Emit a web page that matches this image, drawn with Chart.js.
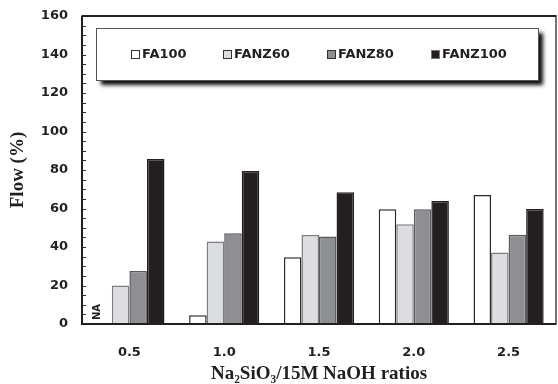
<!DOCTYPE html>
<html>
<head>
<meta charset="utf-8">
<script src="https://cdn.jsdelivr.net/npm/chart.js@4.4.1/dist/chart.umd.min.js"></script>
<style>
  html, body { margin: 0; padding: 0; background: #fff; }
  #wrap { width: 558px; height: 384px; }
</style>
</head>
<body>
<div id="wrap"><canvas id="flowChart"></canvas></div>
<script>
const ratios = ["0.5", "1.0", "1.5", "2.0", "2.5"];
const fa100 = [null, 4.5, 34.7, 59.6, 67];
const fanz60 = [20, 42.8, 46.2, 51.8, 37.2];
const fanz80 = [27.5, 47.2, 45.5, 59.6, 46.3];
const fanz100 = [85.7, 79.5, 68.4, 63.9, 59.7];
const yTicks = [0, 20, 40, 60, 80, 100, 120, 140, 160];

const ink = "#231f20";
const tickFont = { family: "DejaVu Sans", size: 13, weight: "bold" };
const titleFont = { family: "Liberation Serif", size: 19, weight: "bold", lineHeight: 1 };

const series = [
  { label: "FA100", data: fa100, bg: "#ffffff", border: "#2a2a2a" },
  { label: "FANZ60", data: fanz60, bg: "#dcdde0", border: "#7d7d7d" },
  { label: "FANZ80", data: fanz80, bg: "#8e8f93", border: "#5a5a5a" },
  { label: "FANZ100", data: fanz100, bg: ink, border: ink },
];

// frame, minor ticks, legend box and the "NA" note
const decorations = {
  id: "decorations",
  afterDraw(chart) {
    const { ctx, chartArea: a, scales } = chart;
    const y = scales.y, x = scales.x;
    ctx.save();

    // minor ticks inside the left axis
    ctx.strokeStyle = "#333";
    ctx.lineWidth = 1;
    for (let v = 0; v <= 160; v += 5) {
      const py = Math.round(y.getPixelForValue(v)) + 0.5;
      ctx.beginPath();
      ctx.moveTo(a.left, py);
      ctx.lineTo(a.left + 4, py);
      ctx.stroke();
    }

    // frame
    ctx.strokeStyle = "#444";
    ctx.lineWidth = 1.5;
    ctx.strokeRect(a.left, a.top, a.right - a.left, a.bottom - a.top);
    ctx.strokeStyle = ink;
    ctx.lineWidth = 2;
    ctx.beginPath();
    ctx.moveTo(a.left, a.top);
    ctx.lineTo(a.left, a.bottom);
    ctx.lineTo(a.right, a.bottom);
    ctx.moveTo(a.left, a.top);
    ctx.lineTo(a.right, a.top);
    ctx.stroke();

    // NA label where FA100 at 0.5 would be
    const catW = (a.right - a.left) / ratios.length;
    const barW = catW * 0.74 / series.length;
    const naX = x.getPixelForValue(0) - 1.5 * barW - 6;
    ctx.translate(naX, a.bottom - 12);
    ctx.rotate(-Math.PI / 2);
    ctx.fillStyle = ink;
    ctx.font = "bold 10px 'DejaVu Sans'";
    ctx.textAlign = "center";
    ctx.textBaseline = "middle";
    ctx.fillText("NA", 0, 0);
    ctx.setTransform(1, 0, 0, 1, 0, 0);

    // legend box with shadow
    const bx = 96, by = 28, bw = 442, bh = 52;
    ctx.shadowColor = "rgba(0,0,0,0.95)";
    ctx.shadowBlur = 4;
    ctx.shadowOffsetX = 5;
    ctx.shadowOffsetY = 5;
    ctx.fillStyle = "#fff";
    ctx.fillRect(bx, by, bw, bh);
    ctx.shadowColor = "transparent";
    ctx.strokeStyle = "#555";
    ctx.lineWidth = 1;
    ctx.strokeRect(bx + 0.5, by + 0.5, bw, bh);

    const itemX = [131, 223, 327, 431];
    ctx.font = "bold 13px 'DejaVu Sans'";
    ctx.textAlign = "left";
    ctx.textBaseline = "middle";
    series.forEach((s, i) => {
      ctx.fillStyle = s.bg;
      ctx.fillRect(itemX[i], 50.5, 8, 8);
      ctx.strokeStyle = i === 3 ? "#777" : "#333";
      ctx.strokeRect(itemX[i] + 0.5, 50.5, 8, 8);
      ctx.fillStyle = ink;
      ctx.fillText(s.label, itemX[i] + 11, 54.5);
    });
    ctx.restore();
  },
};

new Chart(document.getElementById("flowChart"), {
  type: "bar",
  data: {
    labels: ratios,
    datasets: series.map((s) => ({
      label: s.label,
      data: s.data,
      backgroundColor: s.bg,
      borderColor: s.border,
      borderWidth: 1.5,
      borderSkipped: "bottom",
      categoryPercentage: 0.74,
      barPercentage: 1,
    })),
  },
  options: {
    responsive: true,
    maintainAspectRatio: false,
    animation: false,
    layout: { padding: { top: 16, right: 2, left: 0, bottom: 0 } },
    plugins: {
      legend: { display: false },
      tooltip: { enabled: false },
    },
    scales: {
      x: {
        grid: { display: false, drawTicks: false },
        border: { display: false },
        ticks: { color: ink, font: tickFont, padding: 21 },
        title: {
          display: true,
          text: "Na₂SiO₃/15M NaOH ratios",
          color: ink,
          font: titleFont,
          padding: { top: 0, bottom: 0 },
        },
        afterFit(scale) {
          scale.height = 60;
          scale.paddingLeft = 0;
          scale.paddingRight = 0;
        },
      },
      y: {
        min: 0,
        max: 160,
        afterBuildTicks(scale) { scale.ticks = yTicks.map((v) => ({ value: v })); },
        grid: { display: false, drawTicks: false },
        border: { display: false },
        ticks: { color: ink, font: tickFont, padding: 14 },
        title: {
          display: true,
          text: "Flow (%)",
          color: ink,
          font: titleFont,
          padding: { top: 9, bottom: 0 },
        },
        afterFit(scale) {
          scale.width = 82;
          scale.paddingTop = 0;
          scale.paddingBottom = 0;
        },
      },
    },
  },
  plugins: [decorations],
});
</script>
</body>
</html>
